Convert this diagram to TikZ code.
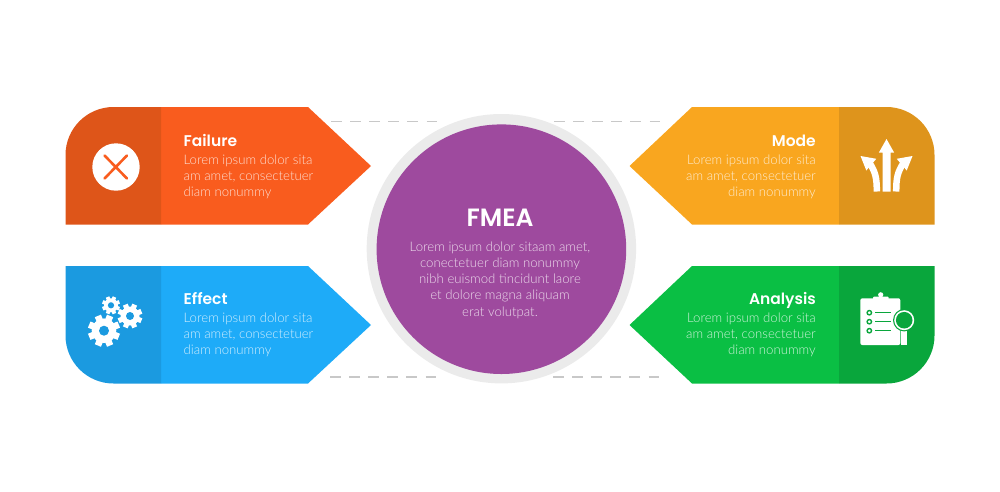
\documentclass[tikz,border=0pt]{standalone}
\usepackage{fontspec}
\setmainfont{Lato}
\newfontfamily\bodyfont{Lato Light}
\newfontfamily\titlefont{Poppins SemiBold}
\definecolor{cOrange}{HTML}{F95C1E}
\definecolor{cOrangeD}{HTML}{DE5519}
\definecolor{cBlue}{HTML}{1EABF8}
\definecolor{cBlueD}{HTML}{1B9AE0}
\definecolor{cAmber}{HTML}{F9A61F}
\definecolor{cAmberD}{HTML}{DE941C}
\definecolor{cGreen}{HTML}{0ABF44}
\definecolor{cGreenD}{HTML}{09A63C}
\definecolor{cPurple}{HTML}{9E4A9E}
\definecolor{cRing}{HTML}{EBEBEB}
\definecolor{cDash}{HTML}{C8C8C8}
\tikzset{
  titleL/.style={anchor=base west,inner sep=0pt,text=white,font=\titlefont\fontsize{15.5}{18}\selectfont},
  titleR/.style={anchor=base east,inner sep=0pt,text=white,font=\titlefont\fontsize{15.5}{18}\selectfont},
  bodyL/.style={anchor=base west,inner sep=0pt,text=white,text opacity=.8,align=left,font=\bodyfont\fontsize{13.2}{16.3}\selectfont},
  bodyR/.style={anchor=base east,inner sep=0pt,text=white,text opacity=.8,align=right,font=\bodyfont\fontsize{13.2}{16.3}\selectfont},
  dashline/.style={draw=cDash,line width=1.2pt,dash pattern=on 10.6pt off 8.5pt},
}
\newcommand{\gearshape}[6]{% x y rBody rTip hole colour
  \fill[white] (#1,#2) circle (#3);
  \foreach \a in {0,45,90,135}
    \fill[white,shift={(#1,#2)},rotate=\a+22.5] (-#3*0.27,-#4) rectangle (#3*0.27,#4);
  \fill[#6] (#1,#2) circle (#5);
}
\begin{document}
\begin{tikzpicture}[x=1pt,y=-1pt]
\useasboundingbox (0,0) rectangle (1000,491);
% dashes
\coordinate (d1a) at (331,121.5); \coordinate (d1b) at (437,121.5);
\coordinate (d2a) at (554,121.5); \coordinate (d2b) at (661,121.5);
\coordinate (d3a) at (330,377);   \coordinate (d3b) at (436,377);
\coordinate (d4a) at (553,377);   \coordinate (d4b) at (660,377);
\draw[dashline] (d1a) -- (d1b);
\draw[dashline] (d2a) -- (d2b);
\draw[dashline] (d3a) -- (d3b);
\draw[dashline] (d4a) -- (d4b);
% Failure
\fill[cOrange] (161,107) -- (308,107) -- (371,166) -- (308,224.5) -- (161,224.5) -- cycle;
\fill[cOrangeD] (161,107) -- (113.5,107) .. controls (87,107) and (65.5,128.5) .. (65.5,155) -- (65.5,224.5) -- (161,224.5) -- cycle;
% Effect
\fill[cBlue] (161,266) -- (308,266) -- (371,325) -- (308,383.5) -- (161,383.5) -- cycle;
\fill[cBlueD] (161,383.5) -- (113.5,383.5) .. controls (87,383.5) and (65.5,362) .. (65.5,335.5) -- (65.5,266) -- (161,266) -- cycle;
% Mode
\fill[cAmber] (839,107) -- (692,107) -- (629.5,166) -- (692,224.5) -- (839,224.5) -- cycle;
\fill[cAmberD] (839,107) -- (886.5,107) .. controls (913,107) and (934.5,128.5) .. (934.5,155) -- (934.5,224.5) -- (839,224.5) -- cycle;
% Analysis
\fill[cGreen] (839,266) -- (692,266) -- (629.5,325) -- (692,383.5) -- (839,383.5) -- cycle;
\fill[cGreenD] (839,383.5) -- (886.5,383.5) .. controls (913,383.5) and (934.5,362) .. (934.5,335.5) -- (934.5,266) -- (839,266) -- cycle;
% Centre
\fill[cRing] (501.4,248.7) circle (134.7);
\fill[cPurple] (501.4,249.2) circle (124.8);
% Texts
\node[titleL] (tFailure) at (183.5,146.2) {Failure};
\node[bodyL] (bFailure) at (183.5,196.6) {Lorem ipsum dolor sita\\am amet, consectetuer\\diam nonummy};
\node[titleL] (tEffect) at (183.5,304.5) {Effect};
\node[bodyL] (bEffect) at (183.5,354.9) {Lorem ipsum dolor sita\\am amet, consectetuer\\diam nonummy};
\node[titleR] (tMode) at (816,146.2) {Mode};
\node[bodyR] (bMode) at (816,196.6) {Lorem ipsum dolor sita\\am amet, consectetuer\\diam nonummy};
\node[titleR] (tAnalysis) at (816,304.5) {Analysis};
\node[bodyR] (bAnalysis) at (816,354.9) {Lorem ipsum dolor sita\\am amet, consectetuer\\diam nonummy};
\node[anchor=base,inner sep=0pt,text=white,font=\titlefont\fontsize{25}{28}\selectfont] (tFMEA) at (500,226) {FMEA};
\node[anchor=base,inner sep=0pt,text=white,text opacity=.8,align=center,font=\bodyfont\fontsize{13.2}{16.1}\selectfont] (bFMEA) at (500,316) {Lorem ipsum dolor sitaam amet,\\conectetuer diam nonummy\\nibh euismod tincidunt laore\\et dolore magna aliquam\\erat volutpat.};
% X icon
\fill[white] (116,167) circle (23.7);
\draw[cOrange,line width=2.6pt,line cap=round] (104.5,155.5) -- (127,178.5) (127,155.5) -- (104.5,178.5);
% Gears
\gearshape{104}{330.7}{12.3}{16}{5}{cBlueD}
\gearshape{130}{316}{9.5}{12.3}{4}{cBlueD}
\gearshape{111}{305.3}{7}{9}{3.1}{cBlueD}
% Arrows
\fill[white] (882.5,191.5) -- (882.5,152.7) -- (878.8,152.7) -- (886.5,139) -- (894.2,152.7) -- (890.5,152.7) -- (890.5,191.5) -- cycle;
\draw[white,line width=6.5pt] (876.8,191.5) .. controls (876.8,178) and (875.5,172) .. (869.5,163);
\fill[white] (860.5,156) -- (876.3,158.8) -- (866.3,170.5) -- cycle;
\draw[white,line width=6.5pt] (896.2,191.5) .. controls (896.2,178) and (897.5,172) .. (903.5,163);
\fill[white] (912.5,156) -- (896.7,158.8) -- (906.7,170.5) -- cycle;
% Clipboard
\fill[white,rounded corners=2pt] (860.3,298.3) rectangle (900.3,345);
\fill[white,rounded corners=1pt] (873,296.5) rectangle (888.5,301.5);
\fill[white] (880.7,294.8) circle (2.6);
\foreach \yy in {312.7,321.7,330.7}{
  \draw[cGreenD,line width=1.4pt] (869.3,\yy) circle (2.2);
  \draw[cGreenD,line width=1.3pt] (875,\yy) -- (890.7,\yy);
}
\fill[white] (901.2,330) rectangle (906.8,345);
\fill[cGreenD] (904.2,320.2) circle (11.2);
\fill[white] (904.2,320.2) circle (10);
\fill[cGreenD] (904.2,320.2) circle (8.3);
\end{tikzpicture}
\end{document}
